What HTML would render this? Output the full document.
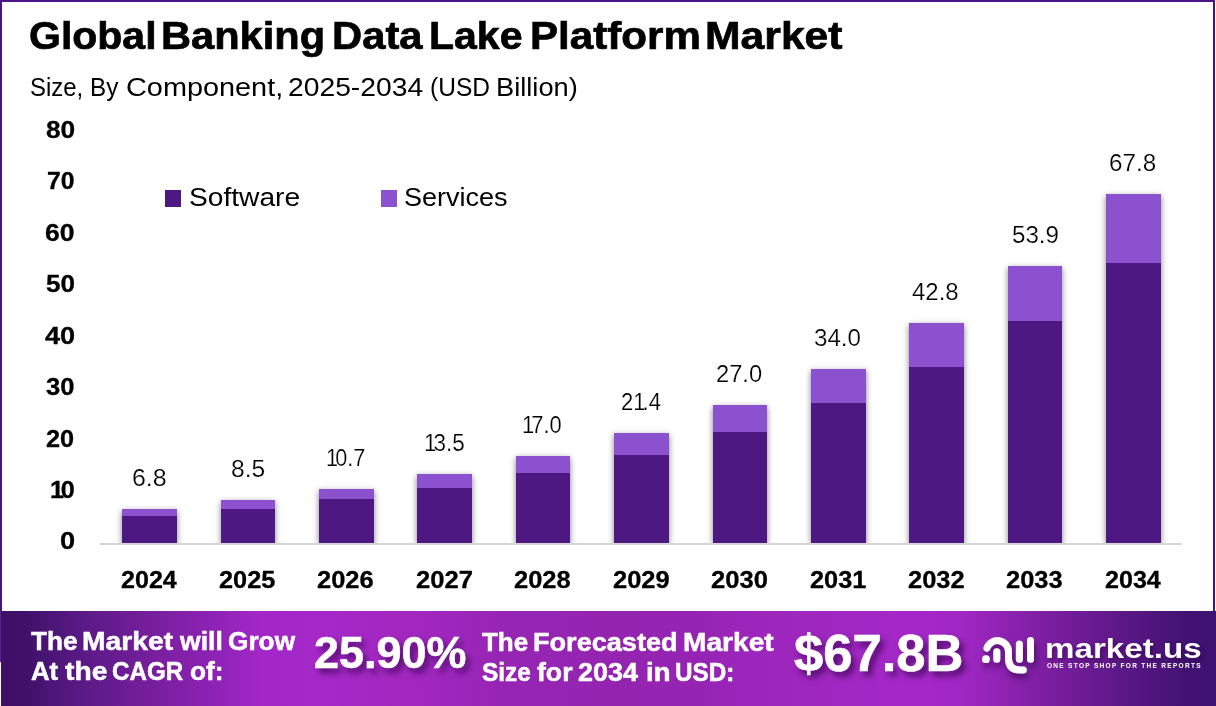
<!DOCTYPE html>
<html><head><meta charset="utf-8">
<style>
*{margin:0;padding:0;box-sizing:border-box}
html,body{width:1216px;height:706px;overflow:hidden;background:#fff;font-family:"Liberation Sans",sans-serif}
#frame{position:absolute;left:0;top:0;width:1215px;height:613px;border:2px solid #4a1482;border-bottom:none;background:#fff}
.w{position:absolute;white-space:nowrap;line-height:1;transform-origin:0 0}
.bar{position:absolute;background:#4e1882;box-shadow:0 2px 6px rgba(0,0,0,.5)}
.bar .sv{position:absolute;left:0;top:0;width:100%;background:#8b51cf}
#axis{position:absolute;left:100px;top:543px;width:1082px;height:2px;background:#d4d4d4}
.lg{position:absolute;width:16px;height:17px}
#footer{position:absolute;left:0;top:611px;width:1216px;height:95px;
background:linear-gradient(90deg,#3f1068 0px,#3f1068 22px,#591a85 80px,#7a1f9f 160px,#8c22b4 210px,#a227c6 260px,#a528c8 320px,#a227c0 400px,#9e26bd 450px,#9625b4 500px,#9424b0 620px,#9524b3 700px,#9c26bc 750px,#9e27be 800px,#a428c8 910px,#a127c4 960px,#7f1fa4 1040px,#5d1888 1120px,#4a1479 1165px,#3f1170 1193px,#3f1170 1216px)}
</style></head><body>
<div id="frame"></div>
<div class="w" style="left:28.68px;top:16.68px;font-size:38.8px;font-weight:bold;color:#000;transform:scaleX(1.0564);-webkit-text-stroke:0.7px #000;">Global</div>
<div class="w" style="left:160.99px;top:16.68px;font-size:38.8px;font-weight:bold;color:#000;transform:scaleX(1.0721);-webkit-text-stroke:0.7px #000;">Banking</div>
<div class="w" style="left:332.48px;top:16.68px;font-size:38.8px;font-weight:bold;color:#000;transform:scaleX(1.0764);-webkit-text-stroke:0.7px #000;">Data</div>
<div class="w" style="left:428.72px;top:16.68px;font-size:38.8px;font-weight:bold;color:#000;transform:scaleX(1.0569);-webkit-text-stroke:0.7px #000;">Lake</div>
<div class="w" style="left:529.86px;top:16.68px;font-size:38.8px;font-weight:bold;color:#000;transform:scaleX(1.0863);-webkit-text-stroke:0.7px #000;">Platform</div>
<div class="w" style="left:705.13px;top:16.68px;font-size:38.8px;font-weight:bold;color:#000;transform:scaleX(1.0998);-webkit-text-stroke:0.7px #000;">Market</div>
<div class="w" style="left:30.21px;top:74.99px;font-size:25.2px;font-weight:normal;color:#000;transform:scaleX(0.9505);-webkit-text-stroke:0px #000;">Size,</div>
<div class="w" style="left:90.18px;top:74.99px;font-size:25.2px;font-weight:normal;color:#000;transform:scaleX(0.9615);-webkit-text-stroke:0px #000;">By</div>
<div class="w" style="left:125.77px;top:74.99px;font-size:25.2px;font-weight:normal;color:#000;transform:scaleX(1.1454);-webkit-text-stroke:0px #000;">Component,</div>
<div class="w" style="left:287.70px;top:74.99px;font-size:25.2px;font-weight:normal;color:#000;transform:scaleX(1.1215);-webkit-text-stroke:0px #000;">2025-2034</div>
<div class="w" style="left:430.04px;top:74.99px;font-size:25.2px;font-weight:normal;color:#000;transform:scaleX(0.9736);-webkit-text-stroke:0px #000;">(USD</div>
<div class="w" style="left:495.94px;top:74.99px;font-size:25.2px;font-weight:normal;color:#000;transform:scaleX(1.0819);-webkit-text-stroke:0px #000;">Billion)</div>
<div style="position:absolute;left:0;top:0;width:1216px;height:543px;overflow:hidden">
<div class="bar" style="left:122.10px;top:508.90px;width:54.6px;height:34.10px"><div class="sv" style="height:6.90px"></div></div>
<div class="bar" style="left:220.51px;top:499.90px;width:54.6px;height:43.10px"><div class="sv" style="height:9.00px"></div></div>
<div class="bar" style="left:318.92px;top:489.10px;width:54.6px;height:53.90px"><div class="sv" style="height:9.80px"></div></div>
<div class="bar" style="left:417.33px;top:474.10px;width:54.6px;height:68.90px"><div class="sv" style="height:14.00px"></div></div>
<div class="bar" style="left:515.74px;top:456.20px;width:54.6px;height:86.80px"><div class="sv" style="height:16.80px"></div></div>
<div class="bar" style="left:614.15px;top:433.00px;width:54.6px;height:110.00px"><div class="sv" style="height:21.90px"></div></div>
<div class="bar" style="left:712.56px;top:405.10px;width:54.6px;height:137.90px"><div class="sv" style="height:26.90px"></div></div>
<div class="bar" style="left:810.97px;top:368.90px;width:54.6px;height:174.10px"><div class="sv" style="height:34.00px"></div></div>
<div class="bar" style="left:909.38px;top:323.00px;width:54.6px;height:220.00px"><div class="sv" style="height:43.80px"></div></div>
<div class="bar" style="left:1007.79px;top:266.00px;width:54.6px;height:277.00px"><div class="sv" style="height:55.00px"></div></div>
<div class="bar" style="left:1106.20px;top:193.90px;width:54.6px;height:349.10px"><div class="sv" style="height:69.10px"></div></div>
</div>
<div id="axis"></div>
<div class="w" style="left:60.01px;top:530.45px;font-size:23px;font-weight:bold;color:#000;transform:scaleX(1.1822);-webkit-text-stroke:0.3px #000;">0</div>
<div class="w" style="left:50.43px;top:479.05px;font-size:23px;font-weight:bold;color:#000;transform:scaleX(1.0927);-webkit-text-stroke:0.3px #000;"><span style="letter-spacing:-3px">1</span>0</div>
<div class="w" style="left:45.97px;top:427.65px;font-size:23px;font-weight:bold;color:#000;transform:scaleX(1.1000);-webkit-text-stroke:0.3px #000;">20</div>
<div class="w" style="left:46.44px;top:375.75px;font-size:23px;font-weight:bold;color:#000;transform:scaleX(1.1134);-webkit-text-stroke:0.3px #000;">30</div>
<div class="w" style="left:44.71px;top:324.65px;font-size:23px;font-weight:bold;color:#000;transform:scaleX(1.1796);-webkit-text-stroke:0.3px #000;">40</div>
<div class="w" style="left:45.93px;top:273.15px;font-size:23px;font-weight:bold;color:#000;transform:scaleX(1.1340);-webkit-text-stroke:0.3px #000;">50</div>
<div class="w" style="left:45.43px;top:221.65px;font-size:23px;font-weight:bold;color:#000;transform:scaleX(1.1542);-webkit-text-stroke:0.3px #000;">60</div>
<div class="w" style="left:46.79px;top:170.15px;font-size:23px;font-weight:bold;color:#000;transform:scaleX(1.0750);-webkit-text-stroke:0.3px #000;">70</div>
<div class="w" style="left:45.73px;top:118.65px;font-size:23px;font-weight:bold;color:#000;transform:scaleX(1.1423);-webkit-text-stroke:0.3px #000;">80</div>
<div class="w" style="left:120.68px;top:568.55px;font-size:23px;font-weight:bold;color:#000;transform:scaleX(1.0911);-webkit-text-stroke:0.3px #000;">2024</div>
<div class="w" style="left:219.08px;top:568.55px;font-size:23px;font-weight:bold;color:#000;transform:scaleX(1.1020);-webkit-text-stroke:0.3px #000;">2025</div>
<div class="w" style="left:317.49px;top:568.55px;font-size:23px;font-weight:bold;color:#000;transform:scaleX(1.1075);-webkit-text-stroke:0.3px #000;">2026</div>
<div class="w" style="left:415.90px;top:568.55px;font-size:23px;font-weight:bold;color:#000;transform:scaleX(1.1131);-webkit-text-stroke:0.3px #000;">2027</div>
<div class="w" style="left:514.31px;top:568.55px;font-size:23px;font-weight:bold;color:#000;transform:scaleX(1.1075);-webkit-text-stroke:0.3px #000;">2028</div>
<div class="w" style="left:612.72px;top:568.55px;font-size:23px;font-weight:bold;color:#000;transform:scaleX(1.1075);-webkit-text-stroke:0.3px #000;">2029</div>
<div class="w" style="left:711.13px;top:568.55px;font-size:23px;font-weight:bold;color:#000;transform:scaleX(1.1131);-webkit-text-stroke:0.3px #000;">2030</div>
<div class="w" style="left:809.54px;top:568.55px;font-size:23px;font-weight:bold;color:#000;transform:scaleX(1.1020);-webkit-text-stroke:0.3px #000;">203<span style="letter-spacing:-3px">1</span></div>
<div class="w" style="left:907.95px;top:568.55px;font-size:23px;font-weight:bold;color:#000;transform:scaleX(1.1075);-webkit-text-stroke:0.3px #000;">2032</div>
<div class="w" style="left:1006.36px;top:568.55px;font-size:23px;font-weight:bold;color:#000;transform:scaleX(1.1075);-webkit-text-stroke:0.3px #000;">2033</div>
<div class="w" style="left:1104.78px;top:568.55px;font-size:23px;font-weight:bold;color:#000;transform:scaleX(1.0911);-webkit-text-stroke:0.3px #000;">2034</div>
<div class="w" style="left:132.04px;top:467.00px;font-size:23px;font-weight:normal;color:#000;transform:scaleX(1.0847);-webkit-text-stroke:0.2px #fff;">6.8</div>
<div class="w" style="left:231.03px;top:458.00px;font-size:23px;font-weight:normal;color:#000;transform:scaleX(1.0700);-webkit-text-stroke:0.2px #fff;">8.5</div>
<div class="w" style="left:325.76px;top:446.90px;font-size:23px;font-weight:normal;color:#000;transform:scaleX(0.9394);-webkit-text-stroke:0.2px #fff;"><span style="letter-spacing:-3px">1</span>0.7</div>
<div class="w" style="left:424.39px;top:431.90px;font-size:23px;font-weight:normal;color:#000;transform:scaleX(0.9769);-webkit-text-stroke:0.2px #fff;"><span style="letter-spacing:-3px">1</span>3.5</div>
<div class="w" style="left:522.24px;top:414.00px;font-size:23px;font-weight:normal;color:#000;transform:scaleX(0.9513);-webkit-text-stroke:0.2px #fff;"><span style="letter-spacing:-3px">1</span>7.0</div>
<div class="w" style="left:620.71px;top:391.25px;font-size:23px;font-weight:normal;color:#000;transform:scaleX(0.9560);-webkit-text-stroke:0.2px #fff;">2<span style="letter-spacing:-3px">1</span>.4</div>
<div class="w" style="left:716.11px;top:363.10px;font-size:23px;font-weight:normal;color:#000;transform:scaleX(1.0306);-webkit-text-stroke:0.2px #fff;">27.0</div>
<div class="w" style="left:814.25px;top:326.80px;font-size:23px;font-weight:normal;color:#000;transform:scaleX(1.0503);-webkit-text-stroke:0.2px #fff;">34.0</div>
<div class="w" style="left:912.02px;top:281.00px;font-size:23px;font-weight:normal;color:#000;transform:scaleX(1.0419);-webkit-text-stroke:0.2px #fff;">42.8</div>
<div class="w" style="left:1011.55px;top:223.60px;font-size:23px;font-weight:normal;color:#000;transform:scaleX(1.0494);-webkit-text-stroke:0.2px #fff;">53.9</div>
<div class="w" style="left:1109.19px;top:152.00px;font-size:23px;font-weight:normal;color:#000;transform:scaleX(1.0518);-webkit-text-stroke:0.2px #fff;">67.8</div>
<div class="lg" style="left:165px;top:190px;background:#4e1882"></div>
<div class="lg" style="left:381px;top:190px;background:#8b51cf"></div>
<div class="w" style="left:188.52px;top:185.45px;font-size:25.5px;font-weight:normal;color:#000;transform:scaleX(1.1043);-webkit-text-stroke:0px #000;">Software</div>
<div class="w" style="left:404.48px;top:185.45px;font-size:25.5px;font-weight:normal;color:#000;transform:scaleX(1.0597);-webkit-text-stroke:0px #000;">Services</div>
<div id="footer">
  <svg style="position:absolute;left:0;top:0" width="1216" height="95" viewBox="0 611 1216 95">
    <defs><filter id="sh" x="-50%" y="-50%" width="200%" height="200%"><feDropShadow dx="2" dy="5" stdDeviation="3" flood-color="#2a0040" flood-opacity=".6"/></filter></defs>
    <g filter="url(#sh)" fill="none" stroke="#fff" stroke-width="7" stroke-linecap="round">
      <circle cx="985.9" cy="659.2" r="3.9" fill="#fff" stroke="none"/>
      <path d="M986.9 648.1 A11.1 11.1 0 0 1 1008.5 651.8 L1008.5 658.5 Q1008.5 670.1 1020.5 670.1 L1023.3 670.1"/>
      <path d="M996.8 651.8 L996.8 659.2 M1019.4 644 L1019.4 659.2 M1030.5 640.5 L1030.5 659.2"/>
    </g>
  </svg>
</div>
<div style="position:absolute;left:0;top:611px;width:1px;height:51px;background:#5a1f95"></div>
<div style="position:absolute;left:0;top:662px;width:1px;height:44px;background:#fff"></div>
<div class="w" style="left:30.80px;top:629.45px;font-size:25.5px;font-weight:bold;color:#fff;transform:scaleX(1.0279);-webkit-text-stroke:0.5px #fff;">The</div>
<div class="w" style="left:81.74px;top:629.45px;font-size:25.5px;font-weight:bold;color:#fff;transform:scaleX(1.1081);-webkit-text-stroke:0.5px #fff;">Market</div>
<div class="w" style="left:179.86px;top:629.45px;font-size:25.5px;font-weight:bold;color:#fff;transform:scaleX(1.0415);-webkit-text-stroke:0.5px #fff;">will</div>
<div class="w" style="left:228.03px;top:629.45px;font-size:25.5px;font-weight:bold;color:#fff;transform:scaleX(1.0286);-webkit-text-stroke:0.5px #fff;">Grow</div>
<div class="w" style="left:30.55px;top:659.25px;font-size:25.5px;font-weight:bold;color:#fff;transform:scaleX(1.0075);-webkit-text-stroke:0.5px #fff;">At</div>
<div class="w" style="left:64.50px;top:659.25px;font-size:25.5px;font-weight:bold;color:#fff;transform:scaleX(1.1067);-webkit-text-stroke:0.5px #fff;">the</div>
<div class="w" style="left:111.89px;top:659.25px;font-size:25.5px;font-weight:bold;color:#fff;transform:scaleX(0.9481);-webkit-text-stroke:0.5px #fff;">CAGR</div>
<div class="w" style="left:190.03px;top:659.25px;font-size:25.5px;font-weight:bold;color:#fff;transform:scaleX(1.0305);-webkit-text-stroke:0.5px #fff;">of:</div>
<div class="w" style="left:482.00px;top:630.15px;font-size:25.5px;font-weight:bold;color:#fff;transform:scaleX(1.0190);-webkit-text-stroke:0.5px #fff;">The</div>
<div class="w" style="left:532.61px;top:630.15px;font-size:25.5px;font-weight:bold;color:#fff;transform:scaleX(1.0627);-webkit-text-stroke:0.5px #fff;">Forecasted</div>
<div class="w" style="left:682.85px;top:630.15px;font-size:25.5px;font-weight:bold;color:#fff;transform:scaleX(1.1031);-webkit-text-stroke:0.5px #fff;">Market</div>
<div class="w" style="left:481.52px;top:660.25px;font-size:25.5px;font-weight:bold;color:#fff;transform:scaleX(0.9588);-webkit-text-stroke:0.5px #fff;">Size</div>
<div class="w" style="left:537.24px;top:660.25px;font-size:25.5px;font-weight:bold;color:#fff;transform:scaleX(1.0448);-webkit-text-stroke:0.5px #fff;">for</div>
<div class="w" style="left:578.21px;top:660.25px;font-size:25.5px;font-weight:bold;color:#fff;transform:scaleX(1.0571);-webkit-text-stroke:0.5px #fff;">2034</div>
<div class="w" style="left:645.58px;top:660.25px;font-size:25.5px;font-weight:bold;color:#fff;transform:scaleX(1.0785);-webkit-text-stroke:0.5px #fff;">in</div>
<div class="w" style="left:675.11px;top:660.25px;font-size:25.5px;font-weight:bold;color:#fff;transform:scaleX(0.9515);-webkit-text-stroke:0.5px #fff;">USD:</div>
<div class="w" style="left:313.53px;top:630.85px;font-size:44.4px;font-weight:bold;color:#fff;transform:scaleX(1.0121);-webkit-text-stroke:0.6px #fff;text-shadow:4px 5px 6px rgba(45,0,70,.7)">25.90%</div>
<div class="w" style="left:794.14px;top:627.70px;font-size:51.2px;font-weight:bold;color:#fff;transform:scaleX(1.0273);-webkit-text-stroke:0.6px #fff;text-shadow:4px 5px 6px rgba(45,0,70,.7)">$67.8B</div>
<div class="w" style="left:1044.89px;top:635.25px;font-size:27.5px;font-weight:bold;color:#fff;transform:scaleX(1.2055);-webkit-text-stroke:0px #fff;text-shadow:2px 3px 4px rgba(40,0,60,.5)">market.us</div>
<div class="w" style="left:1047px;top:663.4px;font-size:6.5px;letter-spacing:1.3px;font-weight:bold;color:#fff;transform:scaleX(1.001);will-change:transform">ONE STOP SHOP FOR THE REPORTS</div>
</body></html>
